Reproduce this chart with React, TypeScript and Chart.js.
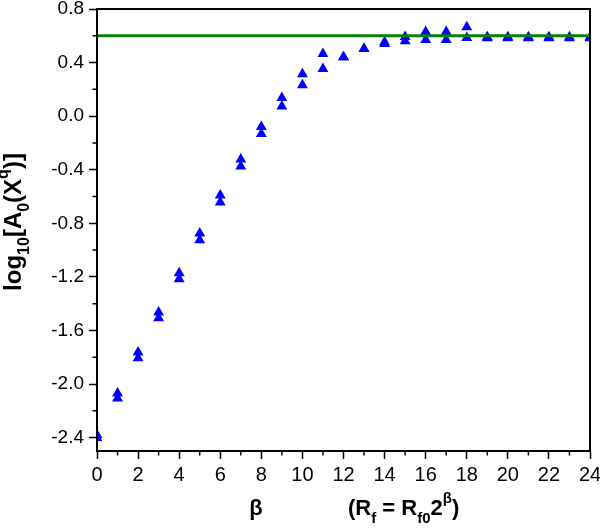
import React, { useEffect, useRef } from 'react';
import { Chart, registerables } from 'chart.js';

Chart.register(...registerables);

// β values (x)
const BETA = [0, 1, 2, 3, 4, 5, 6, 7, 8, 9, 10, 11, 12, 13, 14, 15, 16, 17, 18, 19, 20, 21, 22, 23, 24];
// upper triangle of each pair
const SERIES_UPPER = [-2.38, -2.069, -1.764, -1.465, -1.172, -0.875, -0.591, -0.322, -0.08, 0.137, 0.314, 0.466, 0.441, 0.503, 0.553, 0.593, 0.63, 0.63, 0.665, 0.591, 0.591, 0.591, 0.591, 0.591, 0.591];
// lower triangle of each pair
const SERIES_LOWER = [-2.402, -2.106, -1.807, -1.508, -1.217, -0.925, -0.643, -0.374, -0.132, 0.073, 0.232, 0.354, 0.441, 0.503, 0.54, 0.561, 0.57, 0.57, 0.585, 0.583, 0.583, 0.583, 0.583, 0.583, 0.583];
// horizontal reference level
const PLATEAU = 0.6;

const X_MIN = 0;
const X_MAX = 24;
const Y_MIN = -2.5;
const Y_MAX = 0.8;
const X_TICKS = [0, 2, 4, 6, 8, 10, 12, 14, 16, 18, 20, 22, 24];
const X_MINOR = [1, 3, 5, 7, 9, 11, 13, 15, 17, 19, 21, 23];
const Y_TICKS = [-2.4, -2.0, -1.6, -1.2, -0.8, -0.4, 0.0, 0.4, 0.8];
const Y_MINOR = [-2.2, -1.8, -1.4, -1.0, -0.6, -0.2, 0.2, 0.6];

const FAMILY = '"Liberation Sans", Arial, Helvetica, sans-serif';

type Seg = { t: string; k: 'n' | 'sub' | 'sup' };

const X_TITLE_A: Seg[] = [{ t: 'β', k: 'n' }];
const X_TITLE_B: Seg[] = [
  { t: '(R', k: 'n' },
  { t: 'f', k: 'sub' },
  { t: ' = R', k: 'n' },
  { t: 'f0', k: 'sub' },
  { t: '2', k: 'n' },
  { t: 'β', k: 'sup' },
  { t: ')', k: 'n' },
];
const Y_TITLE: Seg[] = [
  { t: 'log', k: 'n' },
  { t: '10', k: 'sub' },
  { t: '[A', k: 'n' },
  { t: '0', k: 'sub' },
  { t: '(X', k: 'n' },
  { t: 'q', k: 'sup' },
  { t: ')]', k: 'n' },
];

function drawRich(
  ctx: CanvasRenderingContext2D,
  segs: Seg[],
  x: number,
  y: number,
  size: number,
  small: number,
  subDy: number,
  supDy: number,
  measureOnly = false
) {
  let cx = x;
  ctx.textBaseline = 'alphabetic';
  ctx.textAlign = 'left';
  for (const s of segs) {
    ctx.font = `bold ${s.k === 'n' ? size : small}px ${FAMILY}`;
    const dy = s.k === 'sub' ? subDy : s.k === 'sup' ? supDy : 0;
    if (!measureOnly) ctx.fillText(s.t, cx, y + dy);
    cx += ctx.measureText(s.t).width;
  }
  return cx - x;
}

const framePlugin = {
  id: 'frameAndTitles',
  afterDraw(chart: any) {
    const { ctx, chartArea: a, scales } = chart;
    ctx.save();
    ctx.strokeStyle = '#000';
    ctx.lineWidth = 2;
    ctx.strokeRect(a.left, a.top, a.right - a.left, a.bottom - a.top);

    ctx.lineWidth = 1.5;
    ctx.beginPath();
    for (const v of Y_MINOR) {
      const y = scales.y.getPixelForValue(v);
      ctx.moveTo(a.left - 4.5, y);
      ctx.lineTo(a.left, y);
    }
    for (const v of X_MINOR) {
      const x = scales.x.getPixelForValue(v);
      ctx.moveTo(x, a.bottom);
      ctx.lineTo(x, a.bottom + 4.5);
    }
    ctx.stroke();

    ctx.fillStyle = '#000';
    // x title
    const wA = drawRich(ctx, X_TITLE_A, 0, 0, 22, 15, 8, -12, true);
    drawRich(ctx, X_TITLE_A, 256 - wA / 2, 515, 22, 15, 8, -12);
    drawRich(ctx, X_TITLE_B, 348, 515, 22, 15, 8, -12);

    // y title (rotated)
    const wY = drawRich(ctx, Y_TITLE, 0, 0, 24, 16, 8, -13, true);
    ctx.translate(21, 222);
    ctx.rotate(-Math.PI / 2);
    drawRich(ctx, Y_TITLE, -wY / 2, 0, 24, 16, 8, -13);
    ctx.restore();
  },
};

export default function App() {
  const ref = useRef<HTMLCanvasElement | null>(null);

  useEffect(() => {
    if (!ref.current) return;
    const pointsUpper = BETA.map((b, i) => ({ x: b, y: SERIES_UPPER[i] }));
    const pointsLower = BETA.map((b, i) => ({ x: b, y: SERIES_LOWER[i] }));
    const chart = new Chart(ref.current, {
      type: 'scatter',
      data: {
        datasets: [
          {
            type: 'line',
            label: 'plateau',
            data: [
              { x: X_MIN, y: PLATEAU },
              { x: X_MAX, y: PLATEAU },
            ],
            showLine: true,
            borderColor: '#0a820a',
            borderWidth: 3,
            pointRadius: 0,
            order: 0,
            clip: 0,
          } as any,
          {
            label: 'upper',
            data: pointsUpper,
            pointStyle: 'triangle',
            pointRadius: 6.3,
            backgroundColor: '#0000ff',
            borderColor: '#0000ff',
            borderWidth: 0,
            order: 1,
            clip: 0,
          } as any,
          {
            label: 'lower',
            data: pointsLower,
            pointStyle: 'triangle',
            pointRadius: 6.3,
            backgroundColor: '#0000ff',
            borderColor: '#0000ff',
            borderWidth: 0,
            order: 2,
            clip: 0,
          } as any,
        ],
      },
      options: {
        animation: false,
        responsive: true,
        maintainAspectRatio: false,
        layout: { padding: { left: 0, top: 9, right: 10, bottom: 0 } },
        plugins: { legend: { display: false }, tooltip: { enabled: false } },
        scales: {
          x: {
            type: 'linear',
            min: X_MIN,
            max: X_MAX,
            afterBuildTicks: (s: any) => {
              s.ticks = X_TICKS.map((v) => ({ value: v }));
            },
            afterFit: (s: any) => {
              s.height = 78;
              s.paddingLeft = 0;
              s.paddingRight = 0;
            },
            grid: {
              display: true,
              drawOnChartArea: false,
              drawTicks: true,
              tickLength: 8,
              tickWidth: 1.5,
              tickColor: '#000',
            },
            border: { display: false },
            ticks: {
              color: '#000',
              font: { family: FAMILY, size: 20 },
              padding: 4,
              maxRotation: 0,
              autoSkip: false,
              callback: (v: any) => String(v),
            },
          },
          y: {
            type: 'linear',
            min: Y_MIN,
            max: Y_MAX,
            afterBuildTicks: (s: any) => {
              s.ticks = Y_TICKS.map((v) => ({ value: v }));
            },
            afterFit: (s: any) => {
              s.width = 97;
              s.paddingTop = 0;
              s.paddingBottom = 0;
            },
            grid: {
              display: true,
              drawOnChartArea: false,
              drawTicks: true,
              tickLength: 8,
              tickWidth: 1.5,
              tickColor: '#000',
            },
            border: { display: false },
            ticks: {
              color: '#000',
              font: { family: FAMILY, size: 19 },
              padding: 5,
              autoSkip: false,
              callback: (v: any) => Number(v).toFixed(1),
            },
          },
        },
      },
      plugins: [framePlugin],
    });
    return () => chart.destroy();
  }, []);

  return (
    <div style={{ position: 'absolute', left: 0, top: 0, width: 600, height: 529 }}>
      <canvas ref={ref} />
    </div>
  );
}
